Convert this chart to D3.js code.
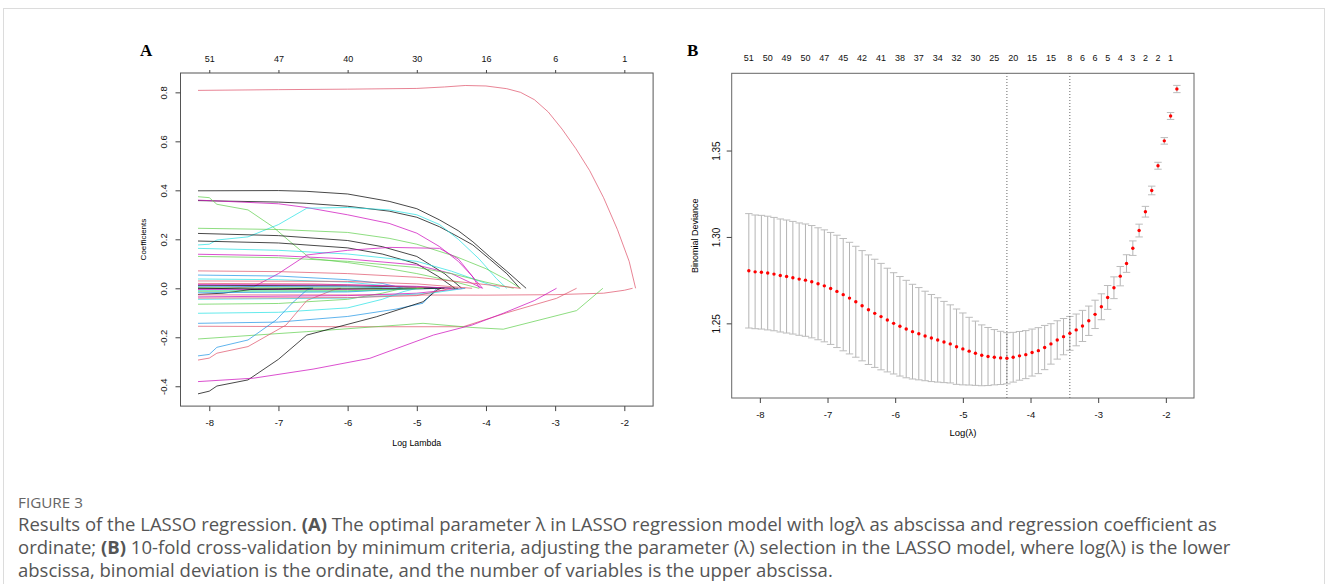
<!DOCTYPE html>
<html><head><meta charset="utf-8">
<script src="https://cdn.jsdelivr.net/npm/d3@7"></script>
<style>body{margin:0;background:#fff} svg{display:block}</style>
</head><body>
<svg id="c" width="1328" height="584"></svg>
<script>
// ---------------- DATA ----------------
// Panel A: lasso coefficient paths (knots: [log lambda, coefficient])
const coefPaths = [
  [[-8.163,0.808],[-7,0.811],[-6,0.813],[-5,0.816],[-4.6,0.822],[-4.3,0.828],[-4.0,0.826],[-3.7,0.815],[-3.5,0.80],[-3.3,0.77],[-3.1,0.72],[-2.9,0.65],[-2.7,0.57],[-2.5,0.48],[-2.3,0.37],[-2.1,0.24],[-1.93,0.11],[-1.837,0]],
  [[-8.163,0.398],[-7,0.399],[-6.6,0.396],[-6,0.385],[-5.4,0.355],[-5,0.325],[-4.67,0.279],[-4.4,0.235],[-4.19,0.19],[-3.95,0.13],[-3.7,0.07],[-3.5,0.02],[-3.42,0]],
  [[-8.163,0.358],[-7,0.352],[-6.6,0.347],[-6,0.335],[-5.4,0.315],[-5,0.29],[-4.67,0.251],[-4.4,0.21],[-4.19,0.177],[-3.95,0.12],[-3.7,0.06],[-3.51,0]],
  [[-8.163,0.36],[-7,0.345],[-6.6,0.33],[-6,0.30],[-5.4,0.265],[-5,0.225],[-4.67,0.17],[-4.4,0.11],[-4.2,0.05],[-4.05,0]],
  [[-8.163,0.374],[-8.0,0.37],[-7.89,0.343],[-7.44,0.32],[-7.08,0.251],[-6.83,0.19],[-6.54,0.122],[-6,0.105],[-5.5,0.085],[-5,0.06],[-4.5,0.03],[-4.1,0]],
  [[-8.163,0.177],[-8.0,0.18],[-7.89,0.197],[-7.44,0.21],[-7.0,0.26],[-6.59,0.327],[-6,0.33],[-5.4,0.32],[-5,0.30],[-4.67,0.26],[-4.4,0.20],[-4.1,0.12],[-3.85,0.04],[-3.7,0]],
  [[-8.163,0.245],[-7,0.24],[-6,0.228],[-5.4,0.204],[-5,0.18],[-4.43,0.129],[-4,0.08],[-3.7,0.035],[-3.5,0]],
  [[-8.163,0.224],[-7,0.215],[-6,0.195],[-5.5,0.17],[-5,0.13],[-4.6,0.06],[-4.35,0]],
  [[-8.163,0.193],[-7,0.185],[-6,0.165],[-5.5,0.14],[-5,0.10],[-4.7,0.05],[-4.45,0]],
  [[-8.163,0.163],[-7,0.155],[-6,0.14],[-5,0.11],[-4.5,0.07],[-4.0,0.02],[-3.8,0]],
  [[-8.163,0.139],[-7,0.133],[-6,0.12],[-5,0.095],[-4.5,0.06],[-4.2,0.02],[-4.05,0]],
  [[-8.163,0.13],[-7,0.125],[-6,0.11],[-5,0.085],[-4.5,0.06],[-4,0.025],[-3.6,0]],
  [[-8.163,0],[-7.8,0.0],[-7.36,0.006],[-7.0,0.06],[-6.59,0.136],[-6,0.155],[-5.39,0.167],[-4.67,0.163],[-4.4,0.12],[-4.2,0.05],[-4.09,0]],
  [[-8.163,0.071],[-7,0.068],[-6,0.06],[-5,0.045],[-4.5,0.03],[-4,0.015],[-3.5,0]],
  [[-8.163,0.054],[-7,0.05],[-6,0.035],[-5.5,0.02],[-5.2,0]],
  [[-8.163,0.038],[-7,0.035],[-6,0.025],[-5.5,0.012],[-5,0]],
  [[-8.163,0.012],[-6,0.01],[-5,0.005],[-4.4,0]],
  [[-8.163,0.008],[-6,0.006],[-5.2,0]],
  [[-8.163,0.02],[-6.5,0.018],[-5.5,0.01],[-4.8,0]],
  [[-8.163,-0.005],[-6,-0.004],[-5,0]],
  [[-8.163,0.003],[-6.5,0.002],[-5.5,0]],
  [[-8.163,-0.01],[-6,-0.012],[-4.7,0]],
  [[-8.163,-0.025],[-7.8,-0.02],[-7.4,-0.005],[-6.5,0]],
  [[-8.163,-0.027],[-6,-0.027],[-4,-0.028],[-3,-0.026],[-2.3,-0.02],[-2.0,-0.008],[-1.88,0]],
  [[-8.163,-0.065],[-7,-0.062],[-6,-0.045],[-5.5,-0.02],[-5.2,0]],
  [[-8.163,-0.102],[-7,-0.098],[-6,-0.08],[-5.5,-0.045],[-5.2,-0.014],[-5.0,0]],
  [[-8.163,-0.143],[-7,-0.138],[-6,-0.115],[-5.3,-0.085],[-4.91,-0.061],[-4.71,0]],
  [[-8.163,-0.155],[-6,-0.157],[-4.33,-0.157],[-3.7,-0.10],[-2.98,-0.041],[-2.69,0]],
  [[-8.163,-0.207],[-6.59,-0.177],[-4.91,-0.143],[-4.2,-0.16],[-3.75,-0.167],[-2.69,-0.091],[-2.31,0]],
  [[-8.163,-0.276],[-8.0,-0.27],[-7.89,-0.241],[-7.44,-0.211],[-7.03,-0.129],[-6.8,-0.06],[-6.59,-0.007],[-6.5,0]],
  [[-8.163,-0.293],[-8.0,-0.285],[-7.89,-0.265],[-7.44,-0.238],[-6.89,-0.15],[-6.59,-0.05],[-6.21,-0.007],[-6.1,0]],
  [[-8.163,-0.431],[-8.0,-0.42],[-7.89,-0.399],[-7.44,-0.374],[-7.0,-0.29],[-6.59,-0.191],[-5.58,-0.116],[-4.91,-0.055],[-4.71,-0.007],[-4.65,0]],
  [[-8.163,-0.381],[-7.36,-0.367],[-6.5,-0.33],[-5.68,-0.286],[-4.76,-0.191],[-4.2,-0.15],[-3.75,-0.102],[-3.3,-0.05],[-2.98,0]],
  [[-8.163,-0.035],[-6,-0.03],[-5,-0.02],[-4.3,0]],
  [[-8.163,-0.045],[-6,-0.04],[-4.8,-0.02],[-4.3,0]],
  [[-8.163,-0.04],[-6,-0.038],[-5,-0.03],[-4.5,0]],
  [[-8.163,-0.018],[-6,-0.015],[-5,0]],
  [[-8.163,0.0],[-7,-0.003],[-5,-0.002],[-4.6,0]],
  [[-8.163,-0.012],[-6,-0.01],[-4.9,0]],
  [[-8.163,0.03],[-6,0.028],[-5,0.018],[-4.2,0]],
  [[-8.163,0.015],[-6,0.014],[-5,0.008],[-4.5,0]]
];
// palette index for each path (R default palette 1..6)
const pathColors = [1,0,0,5,2,4,2,0,0,4,5,2,5,1,3,4,0,3,1,5,2,4,0,1,2,4,3,1,2,3,1,0,5,5,4,1,3,0,2,1,5];
const palette = ["#000000","#DF536B","#61D04F","#2297E6","#28E2E5","#CD0BBC"];

const xTicks = [-8,-7,-6,-5,-4,-3,-2];
const yTicksA = [-0.4,-0.2,0,0.2,0.4,0.6,0.8];
const topLabelsA = ["51","47","40","30","16","6","1"];

// Panel B: cross-validation curve (index 0 = largest lambda)
const logLambda = [-1.837,-1.930,-2.023,-2.116,-2.209,-2.302,-2.395,-2.488,-2.581,-2.674,-2.767,-2.860,-2.953,-3.046,-3.139,-3.232,-3.325,-3.419,-3.512,-3.605,-3.698,-3.791,-3.884,-3.977,-4.070,-4.163,-4.256,-4.349,-4.442,-4.535,-4.628,-4.721,-4.814,-4.907,-5.000,-5.093,-5.186,-5.279,-5.372,-5.465,-5.558,-5.651,-5.744,-5.837,-5.930,-6.023,-6.116,-6.209,-6.302,-6.395,-6.489,-6.582,-6.675,-6.768,-6.861,-6.954,-7.047,-7.140,-7.233,-7.326,-7.419,-7.512,-7.605,-7.698,-7.791,-7.884,-7.977,-8.070,-8.163];
const cvm = [1.3856,1.3700,1.3556,1.3412,1.3269,1.3146,1.3037,1.2935,1.2846,1.2773,1.2706,1.2650,1.2596,1.2552,1.2515,1.2485,1.2462,1.2442,1.2423,1.2404,1.2381,1.2360,1.2342,1.2331,1.2319,1.2312,1.2304,1.2298,1.2300,1.2304,1.2308,1.2315,1.2327,1.2339,1.2352,1.2365,1.2381,1.2392,1.2404,1.2415,1.2427,1.2440,1.2452,1.2467,1.2483,1.2500,1.2519,1.2539,1.2558,1.2579,1.2602,1.2625,1.2646,1.2666,1.2685,1.2702,1.2717,1.2729,1.2741,1.2750,1.2756,1.2764,1.2771,1.2777,1.2785,1.2791,1.2796,1.2798,1.2804];
const cvsd = [0.0021,0.0020,0.0019,0.0020,0.0025,0.0031,0.0037,0.0042,0.0051,0.0056,0.0063,0.0069,0.0075,0.0082,0.0085,0.0090,0.0092,0.0098,0.0105,0.0111,0.0117,0.0128,0.0133,0.0136,0.0139,0.0141,0.0144,0.0148,0.0154,0.0160,0.0168,0.0176,0.0186,0.0196,0.0208,0.0218,0.0226,0.0235,0.0244,0.0252,0.0259,0.0267,0.0274,0.0282,0.0288,0.0293,0.0300,0.0308,0.0313,0.0317,0.0319,0.0321,0.0323,0.0325,0.0325,0.0324,0.0324,0.0324,0.0325,0.0325,0.0325,0.0326,0.0327,0.0327,0.0328,0.0329,0.0329,0.0329,0.0331];
const nzeroIdx = [1,3,5,7,9,11,13,15,17,20,23,26,29,32,35,38,41,44,47,50,53,56,59,62,65,68];
const nzeroLabels = ["1","2","2","3","4","5","6","6","8","15","15","20","25","30","32","34","37","38","41","42","45","47","50","49","50","51"];
const lambdaMinIdx = 27, lambda1seIdx = 17;
const yTicksB = [1.25,1.30,1.35];

// ---------------- DRAW ----------------
const svg = d3.select("#c");
const AX = "Liberation Sans, Arial, Helvetica, sans-serif";

svg.append("rect").attr("x",3.5).attr("y",8.5).attr("width",1321).attr("height",620)
  .attr("fill","none").attr("stroke","#dcdcdc");

function styleAxis(g, size){
  g.select(".domain").remove();
  g.selectAll("line").attr("stroke","#444");
  g.selectAll("text").attr("fill","#111").style("font-family",AX).style("font-size",size+"px");
}

// ---- Panel A ----
const xA = d3.scaleLinear().domain([-8.416,-1.584]).range([180.5,653.1]);
const yA = d3.scaleLinear().domain([-0.481,0.879]).range([406.1,73]);
const gA = svg.append("g");
const lineA = d3.line().x(d=>xA(d[0])).y(d=>yA(d[1]));
coefPaths.forEach((p,i)=>{
  gA.append("path").attr("d",lineA(p)).attr("fill","none")
    .attr("stroke",palette[pathColors[i]]).attr("stroke-width",0.9).attr("stroke-opacity",0.8);
});
gA.append("rect").attr("x",xA.range()[0]).attr("y",yA.range()[1])
  .attr("width",xA.range()[1]-xA.range()[0]).attr("height",yA.range()[0]-yA.range()[1])
  .attr("fill","none").attr("stroke","#555");
gA.append("g").attr("transform",`translate(0,${yA.range()[0]})`)
  .call(d3.axisBottom(xA).tickValues(xTicks).tickSize(5).tickPadding(8).tickFormat(d=>String(d)))
  .call(g=>styleAxis(g,9.5));
gA.append("g").attr("transform",`translate(0,${yA.range()[1]})`)
  .call(d3.axisTop(xA).tickValues(xTicks).tickSize(3).tickPadding(8.5).tickFormat((d,i)=>topLabelsA[i]))
  .call(g=>styleAxis(g,9));
gA.append("g").attr("transform",`translate(${xA.range()[0]},0)`)
  .call(d3.axisLeft(yA).tickValues(yTicksA).tickSize(5).tickFormat(d=>d.toFixed(1)))
  .call(g=>{styleAxis(g,9.5); g.selectAll("text").attr("x",null).attr("dy",null)
    .attr("text-anchor","middle").attr("transform","translate(-13.5,0) rotate(-90)");});
gA.append("text").attr("x",(xA.range()[0]+xA.range()[1])/2).attr("y",446)
  .attr("text-anchor","middle").style("font-family",AX).style("font-size","8.8px").text("Log Lambda");
gA.append("text").attr("transform",`translate(146,${(yA.range()[0]+yA.range()[1])/2}) rotate(-90)`)
  .attr("text-anchor","middle").style("font-family",AX).style("font-size","8px").text("Coefficients");
svg.append("text").attr("x",140).attr("y",56).style("font-family","Liberation Serif, Times New Roman, serif")
  .style("font-weight","bold").style("font-size","17px").text("A");

// ---- Panel B ----
const xB = d3.scaleLinear().domain([-8.416,-1.584]).range([731.7,1194]);
const yB = d3.scaleLinear().domain([1.2068,1.3947]).range([398,73.3]);
const gB = svg.append("g");
const capW = 0.055;
const idx = d3.range(logLambda.length);
// error bars
gB.append("g").selectAll("line.v").data(idx).join("line")
  .attr("x1",i=>xB(logLambda[i])).attr("x2",i=>xB(logLambda[i]))
  .attr("y1",i=>yB(cvm[i]+cvsd[i])).attr("y2",i=>yB(cvm[i]-cvsd[i]))
  .attr("stroke","#b4b4b4").attr("stroke-width",1);
["up","lo"].forEach(s=>{
  gB.append("g").selectAll("line").data(idx).join("line")
    .attr("x1",i=>xB(logLambda[i]-capW)).attr("x2",i=>xB(logLambda[i]+capW))
    .attr("y1",i=>yB(s==="up"?cvm[i]+cvsd[i]:cvm[i]-cvsd[i]))
    .attr("y2",i=>yB(s==="up"?cvm[i]+cvsd[i]:cvm[i]-cvsd[i]))
    .attr("stroke","#bcbcbc").attr("stroke-width",1);
});
// dotted lambda lines
[lambdaMinIdx,lambda1seIdx].forEach(i=>{
  gB.append("line").attr("x1",xB(logLambda[i])).attr("x2",xB(logLambda[i]))
    .attr("y1",yB.range()[0]).attr("y2",yB.range()[1])
    .attr("stroke","#555").attr("stroke-width",0.9).attr("stroke-dasharray","1,2");
});
// points
gB.append("g").selectAll("circle").data(idx).join("circle")
  .attr("cx",i=>xB(logLambda[i])).attr("cy",i=>yB(cvm[i])).attr("r",1.7).attr("fill","#ff0000");
gB.append("rect").attr("x",xB.range()[0]).attr("y",yB.range()[1])
  .attr("width",xB.range()[1]-xB.range()[0]).attr("height",yB.range()[0]-yB.range()[1])
  .attr("fill","none").attr("stroke","#666");
gB.append("g").attr("transform",`translate(0,${yB.range()[0]})`)
  .call(d3.axisBottom(xB).tickValues(xTicks).tickSize(5).tickPadding(8).tickFormat(d=>String(d)))
  .call(g=>styleAxis(g,9.5));
gB.append("g").attr("transform",`translate(${xB.range()[0]},0)`)
  .call(d3.axisLeft(yB).tickValues(yTicksB).tickSize(5).tickFormat(d=>d.toFixed(2)))
  .call(g=>{styleAxis(g,10); g.selectAll("text").attr("x",null).attr("dy",null)
    .attr("text-anchor","middle").attr("transform","translate(-11.7,0) rotate(-90)");});
gB.append("g").selectAll("text").data(nzeroIdx).join("text")
  .attr("x",i=>xB(logLambda[i])).attr("y",60.5).attr("text-anchor","middle")
  .style("font-family",AX).style("font-size","9px").attr("fill","#111")
  .text((d,j)=>nzeroLabels[j]);
gB.append("text").attr("x",(xB.range()[0]+xB.range()[1])/2).attr("y",436)
  .attr("text-anchor","middle").style("font-family",AX).style("font-size","9.5px").text("Log(λ)");
gB.append("text").attr("transform",`translate(698,${(yB.range()[0]+yB.range()[1])/2}) rotate(-90)`)
  .attr("text-anchor","middle").style("font-family",AX).style("font-size","9px").text("Binomial Deviance");
svg.append("text").attr("x",687).attr("y",56).style("font-family","Liberation Serif, Times New Roman, serif")
  .style("font-weight","bold").style("font-size","17px").text("B");

// ---- Caption ----
const CF = "'Open Sans', 'Noto Sans', sans-serif";
const fig = svg.append("text").attr("x",18).attr("y",508).style("font-family",CF).style("font-size","14px")
  .attr("fill","#666").text("FIGURE 3");
fig.style("font-size", (14*65/fig.node().getComputedTextLength())+"px");
const capLines = [
  [["Results of the LASSO regression. ",false],["(A)",true],[" The optimal parameter λ in LASSO regression model with logλ as abscissa and regression coefficient as",false]],
  [["ordinate; ",false],["(B)",true],[" 10-fold cross-validation by minimum criteria, adjusting the parameter (λ) selection in the LASSO model, where log(λ) is the lower",false]],
  [["abscissa, binomial deviation is the ordinate, and the number of variables is the upper abscissa.",false]]
];
const capNodes = capLines.map((ln,k)=>{
  const t = svg.append("text").attr("x",18).attr("y",531+k*23).style("font-family",CF)
    .style("font-size","17px").attr("fill","#555");
  ln.forEach(([s,b])=>t.append("tspan").style("font-weight",b?"bold":"normal").text(s));
  return t;
});
const fs = 17*1200/capNodes[0].node().getComputedTextLength();
capNodes.forEach(t=>t.style("font-size",fs+"px"));
</script></body></html>
